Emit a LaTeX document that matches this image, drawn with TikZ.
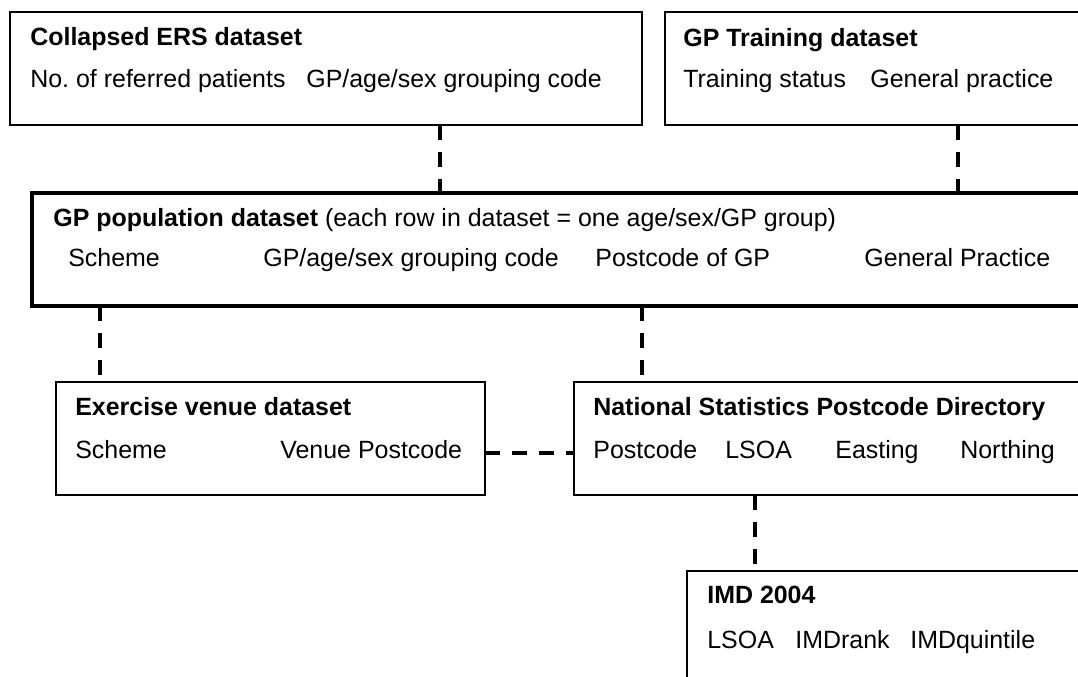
\documentclass[tikz,border=0pt]{standalone}
\usepackage{fontspec}
\setmainfont{Liberation Sans}
\usetikzlibrary{positioning}
\newcommand{\boxfont}{\fontsize{14.2}{17}\selectfont\frenchspacing}
\tikzset{
	dbox/.style={
		rectangle,
		draw=black, line width=0.85pt,
		inner sep=0pt, outer sep=0pt,
		minimum height=2.26cm,
		anchor=north west},
	mainbox/.style={dbox, line width=2.3pt},
	boxtitle/.style={anchor=base west, inner sep=0pt, font=\boxfont\bfseries},
	boxfield/.style={anchor=base west, inner sep=0pt, font=\boxfont},
	link/.style={draw, line width=2.2pt, dash pattern=on 8.5pt off 6.8pt},
}

\begin{document}
\begin{tikzpicture}
	[x=0.02cm, y=-0.02cm]
	\useasboundingbox (0,0) rectangle (1078,676);
	\clip (0,0) rectangle (1078,676);
	% datasets
	\node[dbox, minimum width=12.64cm] (ers) at (10,12) {};
	\node[dbox, minimum width=8.5cm] (training) at (665,12) {};
	\node[mainbox, minimum width=21.16cm] (population) at (32,193) {};
	\node[dbox, minimum width=8.58cm] (venue) at (56,382) {};
	\node[dbox, minimum width=10.32cm] (nspd) at (574,382) {};
	\node[dbox, minimum width=8.06cm, minimum height=2.38cm] (imd) at (687,571) {};
	
	% fields
	\node[boxtitle] (ers-t) at (30,45) {Collapsed ERS dataset};
	\node[boxfield] (ers-a) at (30,87) {No. of referred patients};
	\node[boxfield] (ers-b) at (306,87) {GP/age/sex grouping code};
	
	\node[boxtitle] (training-t) at (683,46) {GP Training dataset};
	\node[boxfield] (training-a) at (683,87) {Training status};
	\node[boxfield] (training-b) at (870,87) {General practice};
	
	\node[boxfield] (population-t) at (53,226) {\textbf{GP population dataset} (each row in dataset = one age/sex/GP group)};
	\node[boxfield] (population-a) at (68,266) {Scheme};
	\node[boxfield] (population-b) at (263,266) {GP/age/sex grouping code};
	\node[boxfield] (population-c) at (595,266) {Postcode of GP};
	\node[boxfield] (population-d) at (864,266) {General Practice};
	
	\node[boxtitle] (venue-t) at (75,415) {Exercise venue dataset};
	\node[boxfield] (venue-a) at (75,458) {Scheme};
	\node[boxfield] (venue-b) at (280,458) {Venue Postcode};
	
	\node[boxtitle] (nspd-t) at (593,415) {National Statistics Postcode Directory};
	\node[boxfield] (nspd-a) at (593,458) {Postcode};
	\node[boxfield] (nspd-b) at (725,458) {LSOA};
	\node[boxfield] (nspd-c) at (835,458) {Easting};
	\node[boxfield] (nspd-d) at (960,458) {Northing};
	
	\node[boxtitle] (imd-t) at (707,603) {IMD 2004};
	\node[boxfield] (imd-a) at (707,648) {LSOA};
	\node[boxfield] (imd-b) at (795,648) {IMDrank};
	\node[boxfield] (imd-c) at (910,648) {IMDquintile};
	
	% links
	\coordinate (x1) at (440,0);
	\coordinate (x2) at (958,0);
	\coordinate (x3) at (100,0);
	\coordinate (x4) at (642,0);
	\coordinate (x5) at (755,0);
	\coordinate (y1) at (0,453);
	\draw[link] (ers.south -| x1) -- (population.north -| x1);
	\draw[link] (training.south -| x2) -- (population.north -| x2);
	\draw[link] (population.south -| x3) -- (venue.north -| x3);
	\draw[link] (population.south -| x4) -- (nspd.north -| x4);
	\draw[link] (venue.east |- y1) -- (nspd.west |- y1);
	\draw[link] (nspd.south -| x5) -- (imd.north -| x5);
\end{tikzpicture}
\end{document}
